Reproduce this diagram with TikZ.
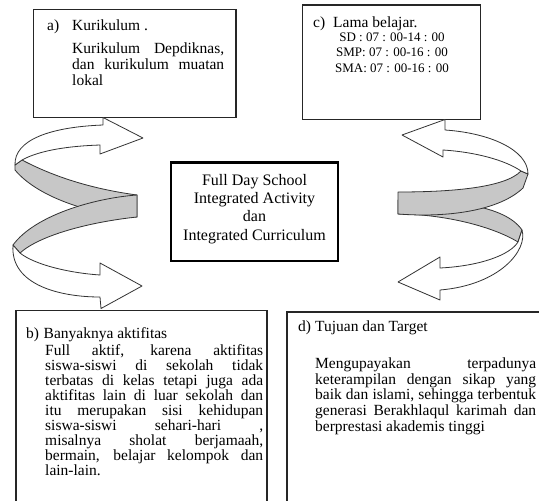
\documentclass[tikz,border=0pt]{standalone}
\usepackage{fontspec}
\setmainfont{Liberation Serif}
\begin{document}
\begin{tikzpicture}[x=1pt,y=-1pt,
  box/.style={draw=black!85, line width=1.3pt},
  cbox/.style={draw=black, line width=2.3pt},
  band/.style={draw=black!80, line width=0.8pt, fill=black!22, line join=round},
  warrow/.style={draw=black!80, line width=0.8pt, fill=white, line join=round},
  txt/.style={anchor=base west, inner sep=0pt, font=\fontsize{15.5}{15}\selectfont},
  ctxt/.style={anchor=base, inner sep=0pt, font=\fontsize{16}{16}\selectfont},
  stxt/.style={anchor=base, inner sep=0pt, font=\fontsize{13}{13}\selectfont}]
\useasboundingbox (0,0) rectangle (539,501);
\clip (0,0) rectangle (539,501);
\fill[white] (0,0) rectangle (539,501);

% boxes
\draw[box] (33.3,9.3) rectangle (236,117.5);
\draw[box] (302.5,5) rectangle (480.5,119.5);
\draw[cbox] (171,162.5) rectangle (338,261);
\draw[box] (16,310.5) rectangle (267,530);
\draw[box] (287,312) rectangle (570,530);

% left spiral
\draw[band] (22,160) .. controls (60,180) and (100,190) .. (137,195) -- (137,217)
  .. controls (100,216) and (40,200) .. (15,170) -- (15,165) -- cycle;
\draw[band] (137,195) .. controls (95,198) and (35,215) .. (13,245) -- (20,253)
  .. controls (40,235) and (90,222) .. (137,217) -- cycle;
\draw[warrow] (103,125) .. controls (50,127) and (14,140) .. (15,165) -- (22,160)
  .. controls (40,150) and (70,146) .. (100,145) -- (100,154) -- (143,138) -- (103,117.5) -- cycle;
\draw[warrow] (13,245) .. controls (10,285) and (60,297) .. (100,297) -- (101,308.5)
  -- (142,286) -- (100,263) -- (100,275) .. controls (70,273) and (35,265) .. (20,253) -- cycle;

% right spiral
\draw[band] (398,200) .. controls (450,200) and (505,205) .. (522,230) -- (518,242)
  .. controls (490,225) and (440,214) .. (398,214) -- cycle;
\draw[band] (521,171) .. controls (505,188) and (450,192) .. (398,192) -- (398,214)
  .. controls (450,218) and (500,210) .. (523,188) -- (528,174) -- cycle;
\draw[warrow] (445,130) .. controls (490,133) and (528,150) .. (528,174) -- (521,171)
  .. controls (505,160) and (475,152) .. (443,150) -- (443,157) -- (402,135) -- (445,119.5) -- cycle;
\draw[warrow] (522,230) .. controls (528,250) and (500,285) .. (440,290) -- (440,300)
  -- (398,282) -- (440,257) -- (440,268) .. controls (480,266) and (510,255) .. (518,242) -- cycle;

% box a text
\node[txt] (a1) at (47,30.7) {a)};
\node[txt] (a2) at (72,30.7) {Kurikulum .};
\node[txt] (a3) at (72,53.3) {\makebox[152pt][s]{Kurikulum Depdiknas,}};
\node[txt] (a4) at (72,69) {\makebox[152pt][s]{dan kurikulum muatan}};
\node[txt] (a5) at (72,85) {lokal};

% box c text
\node[txt] (c1) at (313,27.3) {c)};
\node[txt] (c2) at (333,27.3) {Lama belajar.};
\node[stxt] (c3) at (392,41.7) {SD : 07 : 00-14 : 00};
\node[stxt] (c4) at (392,56.7) {SMP: 07 : 00-16 : 00};
\node[stxt] (c5) at (392,72.7) {SMA: 07 : 00-16 : 00};

% centre text
\node[ctxt] (m1) at (254.5,185) {Full Day School};
\node[ctxt] (m2) at (254.5,203.3) {Integrated Activity};
\node[ctxt] (m3) at (254.5,221.6) {dan};
\node[ctxt] (m4) at (254.5,240) {Integrated Curriculum};

% box b text
\node[txt] (b0) at (26,338) {b)};
\node[txt] (b1) at (43.5,338) {Banyaknya aktifitas};
\node[txt] (b2) at (45,355) {\makebox[218pt][s]{Full aktif, karena aktifitas}};
\node[txt] (b3) at (45,370) {\makebox[218pt][s]{siswa-siswi di sekolah tidak}};
\node[txt] (b4) at (45,385) {\makebox[218pt][s]{terbatas di kelas tetapi juga ada}};
\node[txt] (b5) at (45,400) {\makebox[218pt][s]{aktifitas lain di luar sekolah dan}};
\node[txt] (b6) at (45,415) {\makebox[218pt][s]{itu merupakan sisi kehidupan}};
\node[txt] (b7) at (45,430) {\makebox[218pt][s]{siswa-siswi sehari-hari ,}};
\node[txt] (b8) at (45,445) {\makebox[218pt][s]{misalnya sholat berjamaah,}};
\node[txt] (b9) at (45,460) {\makebox[218pt][s]{bermain, belajar kelompok dan}};
\node[txt] (b10) at (45,475) {lain-lain.};

% box d text
\node[txt] (d0) at (298,331.7) {d)};
\node[txt] (d1) at (315,331.7) {Tujuan dan Target};
\node[txt] (d2) at (315,368) {\makebox[221pt][s]{Mengupayakan terpadunya}};
\node[txt] (d3) at (315,384) {\makebox[221pt][s]{keterampilan dengan sikap yang}};
\node[txt] (d4) at (315,399) {\makebox[221pt][s]{baik dan islami, sehingga terbentuk}};
\node[txt] (d5) at (315,415) {\makebox[221pt][s]{generasi Berakhlaqul karimah dan}};
\node[txt] (d6) at (315,431) {berprestasi akademis tinggi};
\end{tikzpicture}
\end{document}
